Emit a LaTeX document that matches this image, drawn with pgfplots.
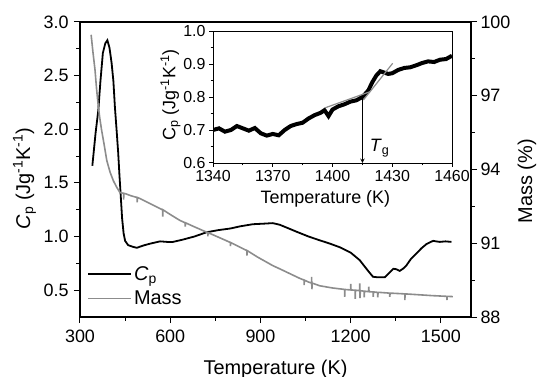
\documentclass[border=0pt]{standalone}
\usepackage{pgfplots}
\pgfplotsset{compat=1.18}
\usepackage{fontspec}
\setmainfont{Liberation Sans}
\usetikzlibrary{calc}
\definecolor{massgray}{RGB}{140,140,140}
\begin{document}
\begin{tikzpicture}
\pgfplotsset{
  every axis/.append style={
    scale only axis,
    axis line style={line width=1.2bp},
    tick style={line width=1bp, black},
    tick align=outside,
    major tick length=6bp, minor tick length=3.5bp,
    /pgf/number format/assume math mode=true,
    /pgf/number format/1000 sep={},
  }
}
% ---------- main axis: Cp ----------
\begin{axis}[
  name=main, at={(0,0)}, anchor=south west,
  width=391bp, height=295bp,
  xmin=300, xmax=1600, ymin=0.25, ymax=3.0,
  xtick={300,600,900,1200,1500}, minor x tick num=1,
  ytick={0.5,1.0,1.5,2.0,2.5,3.0}, minor y tick num=1,
  xtick pos=bottom, ytick pos=left,
  yticklabel style={/pgf/number format/fixed, /pgf/number format/fixed zerofill, /pgf/number format/precision=1, xshift=-2bp},
  xticklabel style={yshift=-3bp},
  tick label style={font=\fontsize{18}{21}\selectfont},
  label style={font=\fontsize{20}{24}\selectfont},
  xlabel={Temperature (K)},
  ylabel={\textit{C}\textsubscript{p} (Jg\textsuperscript{-1}K\textsuperscript{-1})},
  xlabel style={at={(axis description cs:0.5,0)}, anchor=base, yshift=-57bp},
  ylabel style={at={(axis description cs:-0.142,0.47)}, anchor=center},
]
\addplot[black, line width=1.8bp] coordinates {
(341,1.66)(346,1.80)(352,1.97)(361,2.18)(368,2.45)(376,2.71)(384,2.80)(391,2.83)(398,2.76)(405,2.62)(411,2.45)(416,2.21)(422,1.98)(427,1.78)(431,1.58)(435,1.40)(440,1.17)(445,1.03)(450,0.96)(460,0.92)(475,0.905)(489,0.895)(499,0.905)(515,0.92)(535,0.935)(566,0.955)(590,0.95)(609,0.95)(640,0.97)(680,1.00)(721,1.04)(760,1.06)(800,1.075)(832,1.095)(875,1.115)(910,1.12)(941,1.125)(964,1.11)(990,1.08)(1020,1.045)(1060,1.00)(1097,0.965)(1130,0.935)(1164,0.90)(1200,0.85)(1230,0.78)(1255,0.69)(1274,0.625)(1290,0.62)(1313,0.62)(1328,0.66)(1342,0.70)(1352,0.695)(1363,0.68)(1374,0.70)(1385,0.73)(1400,0.79)(1418,0.84)(1435,0.89)(1452,0.93)(1463,0.945)(1474,0.96)(1484,0.955)(1496,0.95)(1515,0.955)(1535,0.95)
};
\end{axis}
% ---------- right axis: Mass ----------
\begin{axis}[
  at={(0,0)}, anchor=south west,
  width=391bp, height=295bp,
  xmin=300, xmax=1600, ymin=88, ymax=100,
  axis y line*=right, axis x line=none,
  ytick={88,91,94,97,100}, minor y tick num=1,
  tick label style={font=\fontsize{18}{21}\selectfont},
  label style={font=\fontsize{20}{24}\selectfont},
  ylabel={Mass (\%)},
  ylabel style={at={(axis description cs:1.143,0.46)}, anchor=center},
  legend style={at={(axis description cs:0.018,0.03)}, anchor=south west, draw=none, fill=none,
    font=\fontsize{20}{24}\selectfont, row sep=5bp, inner sep=0pt},
  legend cell align=left,
  legend image code/.code={\draw[#1] (0bp,0bp) -- (43bp,0bp);},
]
\addlegendimage{black, line width=1.8bp}
\addlegendentry{\textit{C}\textsubscript{p}}
\addplot[massgray, line width=1.6bp] coordinates {
(337,99.48)(343,98.78)(350,98.04)(355,97.29)(361,96.55)(366,96.07)(372,95.59)(380,95.03)(389,94.37)(400,93.89)(411,93.54)(422,93.28)(433,93.06)
(445,93.03)(445,92.78)(446,93.03)(450,93.02)(470,92.93)(490,92.86)(490,92.66)(491,92.86)(499,92.82)(530,92.63)(566,92.41)(575,92.36)(575,92.08)(576,92.36)(600,92.17)(632,91.93)(650,91.83)(650,91.68)(651,91.83)(680,91.67)(721,91.45)(725,91.43)(725,91.28)(726,91.43)(780,91.14)(800,91.03)(800,90.88)(801,91.03)(832,90.84)(855,90.70)(855,90.50)(856,90.70)(890,90.44)(941,90.09)(964,89.96)(1000,89.75)(1031,89.57)(1045,89.50)(1045,89.30)(1046,89.50)(1060,89.42)(1070,89.38)(1070,89.63)(1071,89.13)(1072,89.38)(1097,89.27)(1140,89.18)(1174,89.13)(1180,89.12)(1180,88.82)(1181,89.12)(1200,89.10)(1200,89.35)(1201,89.10)(1215,89.09)(1215,88.74)(1216,89.09)(1230,89.07)(1230,89.37)(1231,88.77)(1232,89.07)(1245,89.05)(1245,88.80)(1246,89.05)(1260,89.03)(1260,89.23)(1261,89.03)(1275,89.02)(1275,88.82)(1276,89.02)(1290,89.00)(1290,88.80)(1291,89.00)(1297,89.00)(1330,88.97)(1330,88.82)(1331,88.97)(1350,88.96)(1380,88.94)(1380,88.69)(1381,88.94)(1407,88.92)(1470,88.87)(1520,88.84)(1520,88.69)(1521,88.84)(1540,88.83)
};
\addlegendentry{Mass}
\end{axis}
% ---------- inset ----------
\begin{axis}[
  at={(133bp,154bp)}, anchor=south west,
  width=239bp, height=132bp,
  xmin=1340, xmax=1460, ymin=0.6, ymax=1.0,
  xtick={1340,1370,1400,1430,1460}, ytick={0.6,0.7,0.8,0.9,1.0},
  minor x tick num=1, minor y tick num=1,
  xtick pos=bottom, ytick pos=left,
  axis line style={line width=0.9bp},
  major tick length=4bp, minor tick length=2.5bp,
  axis background/.style={fill=white},
  yticklabel style={/pgf/number format/fixed, /pgf/number format/fixed zerofill, /pgf/number format/precision=1},
  tick label style={font=\fontsize{16}{19}\selectfont},
  label style={font=\fontsize{18}{22}\selectfont},
  xlabel={Temperature (K)},
  ylabel={C\textsubscript{p} (Jg\textsuperscript{-1}K\textsuperscript{-1})},
  xlabel style={at={(axis description cs:0.47,0)}, anchor=base, yshift=-40bp},
  ylabel style={at={(axis description cs:-0.178,0.515)}, anchor=center},
]
\addplot[black, line width=4bp] coordinates {
(1340,0.700)(1343,0.705)(1346,0.695)(1349,0.700)(1352,0.712)(1355,0.705)(1358,0.698)(1361,0.706)(1364,0.690)(1367,0.683)(1370,0.688)(1373,0.684)(1376,0.700)(1379,0.712)(1382,0.718)(1385,0.722)(1388,0.735)(1391,0.745)(1394,0.752)(1396,0.760)(1398,0.742)(1400,0.762)(1403,0.772)(1406,0.778)(1409,0.786)(1412,0.790)(1415,0.800)(1418,0.820)(1420,0.845)(1422,0.865)(1424,0.878)(1426,0.874)(1428,0.870)(1430,0.872)(1433,0.882)(1436,0.888)(1439,0.890)(1442,0.896)(1445,0.903)(1448,0.908)(1451,0.906)(1454,0.913)(1457,0.915)(1460,0.925)
};
\addplot[massgray, line width=1.2bp] coordinates {(1396.2,0.767)(1418.8,0.816)};
\addplot[massgray, line width=1.2bp] coordinates {(1415.5,0.791)(1430.2,0.902)};
\addplot[black, line width=1bp, -stealth] coordinates {(1415,0.80)(1415,0.60)};
\node[anchor=west, font=\fontsize{18}{21}\selectfont] at (axis cs:1417,0.645) {\textit{T}\textsubscript{g}};
\end{axis}
\pgfresetboundingbox
\path (-80bp,-60bp) rectangle (458bp,317bp);
\end{tikzpicture}
\end{document}
